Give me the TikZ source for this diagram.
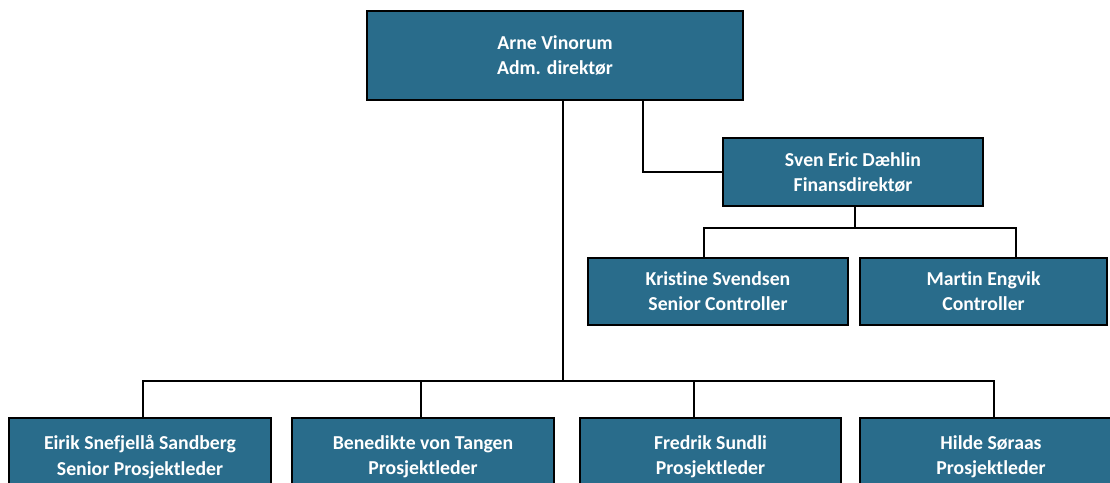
\documentclass[tikz,border=0pt]{standalone}
\usepackage{fontspec}
\setmainfont{Carlito}[Ligatures=NoCommon]
\usetikzlibrary{positioning}

\definecolor{orgblue}{RGB}{41,108,139}

\begin{document}
\begin{tikzpicture}[
        x=0.75pt, y=-0.75pt,
        unit_box/.style={draw=black, line width=1.4pt, rectangle, fill=orgblue, text=white, align=center, inner sep=0pt, font=\fontsize{14.8}{18.8}\selectfont\bfseries},
        top_box/.style={unit_box, minimum width=282pt, minimum height=66.75pt},
        mid_box/.style={unit_box, minimum width=195pt, minimum height=50.5pt},
        low_box/.style={unit_box, minimum width=196pt, minimum height=58.5pt},
        link/.style={draw=black, line width=1.5pt}
    ]
        \useasboundingbox (0,0) rectangle (1110,482);
        \clip (0,0) rectangle (1110,482);

        \node[top_box] (ceo) at (555, 55.5) {Arne Vinorum\\Adm. direktør};
        \node[mid_box] (cfo) at (853, 172) {Sven Eric Dæhlin\\Finansdirektør};
        \node[mid_box] (kristine) at (718, 291.5) {Kristine Svendsen\\Senior Controller};
        \node[mid_box, minimum width=185pt] (martin) at (983.5, 291.5) {Martin Engvik\\Controller};

        \node[low_box] (eirik) at (140, 457) {Eirik Snefjellå Sandberg\\Senior Prosjektleder};
        \node[low_box] (benedikte) at (423, 457) {Benedikte von Tangen\\Prosjektleder};
        \node[low_box] (fredrik) at (710.5, 457) {Fredrik Sundli\\Prosjektleder};
        \node[low_box] (hilde) at (991, 457) {Hilde Søraas\\Prosjektleder};

        \coordinate (pm_bus) at (563, 381);
        \coordinate (fin_bus) at (855, 228);

        \draw[link] (ceo.south -| pm_bus) -- (pm_bus);
        \draw[link] ([xshift=2.25pt]eirik.north) |- (pm_bus) -| ([xshift=2.25pt]hilde.north);
        \draw[link] ([xshift=-1.5pt]benedikte.north) -- ([xshift=-1.5pt]benedikte.north |- pm_bus);
        \draw[link] ([xshift=-12.75pt]fredrik.north) -- ([xshift=-12.75pt]fredrik.north |- pm_bus);

        \draw[link] ([xshift=66pt]ceo.south) |- (cfo.west);
        \draw[link] (cfo.south -| fin_bus) -- (fin_bus);
        \draw[link] ([xshift=-10.5pt]kristine.north) |- (fin_bus) -| ([xshift=24.4pt]martin.north);

    \end{tikzpicture}
\end{document}
